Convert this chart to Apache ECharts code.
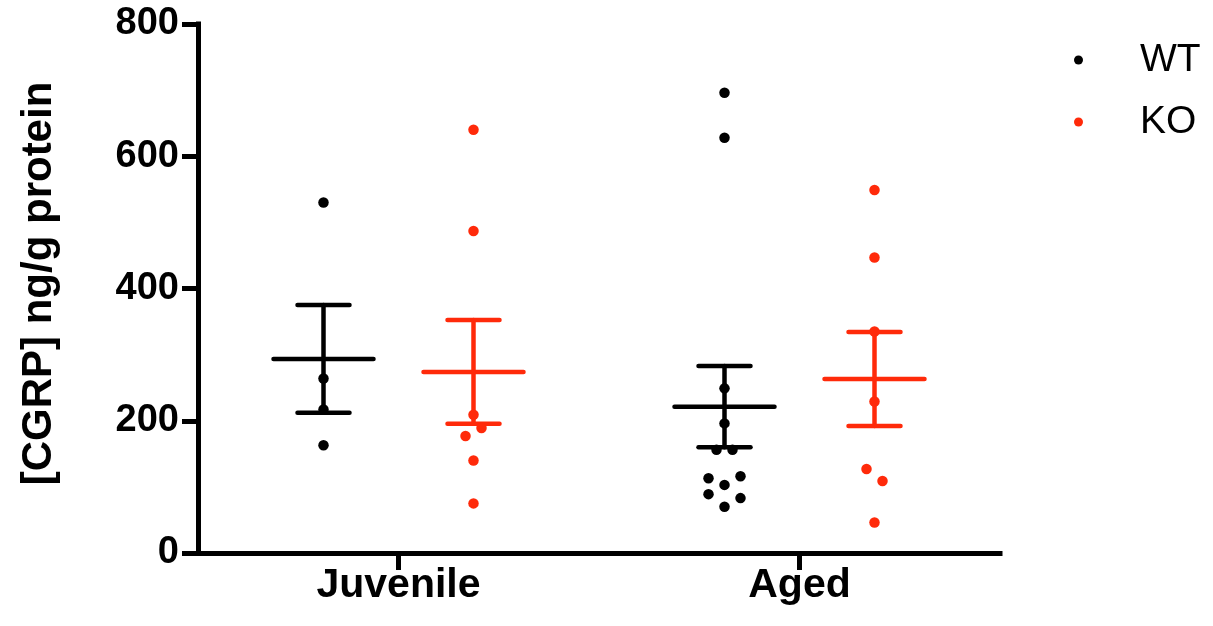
<!DOCTYPE html>
<html>
<head>
<meta charset="utf-8">
<script src="https://cdn.jsdelivr.net/npm/echarts@6/dist/echarts.min.js"></script>
<style>
  html, body { margin: 0; padding: 0; background: #ffffff; }
  #chart { width: 1213px; height: 626px; }
</style>
</head>
<body>
<div id="chart"></div>
<script>
// ---- data ----
const categories = ['Juvenile', 'Aged'];
const groupNames = ['WT', 'KO'];
const wtValues = [
  [530, 264, 217, 163],
  [696, 628, 249, 196, 156, 156, 116, 113, 103, 89, 83, 70]
];
const koValues = [
  [640, 487, 209, 189, 177, 140, 75],
  [549, 447, 335, 229, 127, 109, 46]
];
const yTicks = { min: 0, max: 800, interval: 200 };

// ---- layout / style ----
const GRID = { left: 198, right: 213, top: 24, bottom: 73 };
const gridW = 1213 - GRID.left - GRID.right;
const gridH = 626 - GRID.top - GRID.bottom;
const pxPerX = gridW / categories.length;             // px per unit of hidden x axis
const pxPerY = gridH / (yTicks.max - yTicks.min);
const groupOffsetPx = 75;
const colors = { WT: '#000000', KO: '#ff2a0a' };

function mean(a) { return a.reduce((s, v) => s + v, 0) / a.length; }
function sem(a) {
  const m = mean(a);
  const v = a.reduce((s, x) => s + (x - m) * (x - m), 0) / (a.length - 1);
  return Math.sqrt(v) / Math.sqrt(a.length);
}

// column-scatter placement: points close in value share a row and are spread sideways
function swarm(values, centerX) {
  const sorted = values.slice().sort((a, b) => b - a);
  const rows = [];
  sorted.forEach(v => {
    const r = rows[rows.length - 1];
    if (r && (r[0] - v) * pxPerY <= 13) r.push(v); else rows.push([v]);
  });
  const out = [];
  const spacing = 16;
  rows.forEach((r, ri) => {
    const s = (ri % 2 === 1) ? 1 : -1;
    let order;
    if (r.length === 1) order = [0];
    else if (r.length === 2) order = [0.5 * s, -0.5 * s];
    else if (r.length === 3) order = [s, -s, 0];
    else order = r.map((_, i) => i - (r.length - 1) / 2);
    r.forEach((v, i) => out.push([centerX + order[i] * spacing / pxPerX, v]));
  });
  return out;
}

const groupsData = { WT: wtValues, KO: koValues };
const series = [];
groupNames.forEach((g, gi) => {
  const sign = gi === 0 ? -1 : 1;
  const pts = [];
  const stats = [];
  categories.forEach((c, ci) => {
    const cx = ci + 0.5 + sign * groupOffsetPx / pxPerX;
    const vals = groupsData[g][ci];
    swarm(vals, cx).forEach(p => pts.push(p));
    const m = mean(vals), s = sem(vals);
    stats.push([cx, m, m - s, m + s]);
  });
  series.push({
    type: 'custom',
    name: g + ' mean',
    xAxisIndex: 1,
    yAxisIndex: 0,
    z: 2,
    silent: true,
    data: stats,
    renderItem: function (params, api) {
      const xc = api.value(0);
      const pm = api.coord([xc, api.value(1)]);
      const pl = api.coord([xc, api.value(2)]);
      const ph = api.coord([xc, api.value(3)]);
      const st = { stroke: colors[g], lineWidth: 4.5, lineCap: 'round' };
      return {
        type: 'group',
        children: [
          { type: 'line', shape: { x1: pm[0] - 50, y1: pm[1], x2: pm[0] + 50, y2: pm[1] }, style: st },
          { type: 'line', shape: { x1: pl[0], y1: pl[1], x2: ph[0], y2: ph[1] }, style: st },
          { type: 'line', shape: { x1: ph[0] - 26, y1: ph[1], x2: ph[0] + 26, y2: ph[1] }, style: st },
          { type: 'line', shape: { x1: pl[0] - 26, y1: pl[1], x2: pl[0] + 26, y2: pl[1] }, style: st }
        ]
      };
    }
  });
  series.push({
    type: 'scatter',
    name: g,
    xAxisIndex: 1,
    yAxisIndex: 0,
    z: 3,
    symbol: 'circle',
    symbolSize: 10.5,
    itemStyle: { color: colors[g], opacity: 1 },
    data: pts
  });
});

const chart = echarts.init(document.getElementById('chart'), null, { renderer: 'canvas' });
chart.setOption({
  animation: false,
  backgroundColor: '#ffffff',
  textStyle: { fontFamily: 'Liberation Sans, Arial, Helvetica, sans-serif' },
  grid: { left: GRID.left, right: GRID.right, top: GRID.top, bottom: GRID.bottom, containLabel: false },
  legend: {
    data: groupNames,
    orient: 'vertical',
    left: 1069,
    top: 35,
    icon: 'circle',
    itemWidth: 9,
    itemHeight: 9,
    itemGap: 22,
    selectedMode: false,
    textStyle: {
      fontSize: 39,
      lineHeight: 40,
      color: '#000',
      fontFamily: 'Liberation Sans, Arial, sans-serif',
      padding: [0, 0, 0, 52]
    }
  },
  xAxis: [
    {
      type: 'category',
      data: categories,
      boundaryGap: true,
      axisLine: { show: true, lineStyle: { color: '#000', width: 5, cap: 'square' } },
      axisTick: { show: true, alignWithLabel: true, length: 17, lineStyle: { color: '#000', width: 5 } },
      axisLabel: { fontSize: 41, fontWeight: 'bold', color: '#000', margin: 12 },
      splitLine: { show: false }
    },
    {
      type: 'value',
      min: 0,
      max: categories.length,
      show: false,
      splitLine: { show: false }
    }
  ],
  yAxis: {
    type: 'value',
    min: yTicks.min,
    max: yTicks.max,
    interval: yTicks.interval,
    name: '[CGRP] ng/g protein',
    nameLocation: 'middle',
    nameGap: 138,
    nameTextStyle: { fontSize: 42, fontWeight: 'bold', color: '#000', padding: [0, 0, 0, 10] },
    axisLine: { show: true, lineStyle: { color: '#000', width: 5, cap: 'square' } },
    axisTick: { show: true, length: 16, lineStyle: { color: '#000', width: 5 } },
    axisLabel: { fontSize: 38, fontWeight: 'bold', color: '#000', margin: 19 },
    splitLine: { show: false }
  },
  series: series
});
</script>
</body>
</html>
